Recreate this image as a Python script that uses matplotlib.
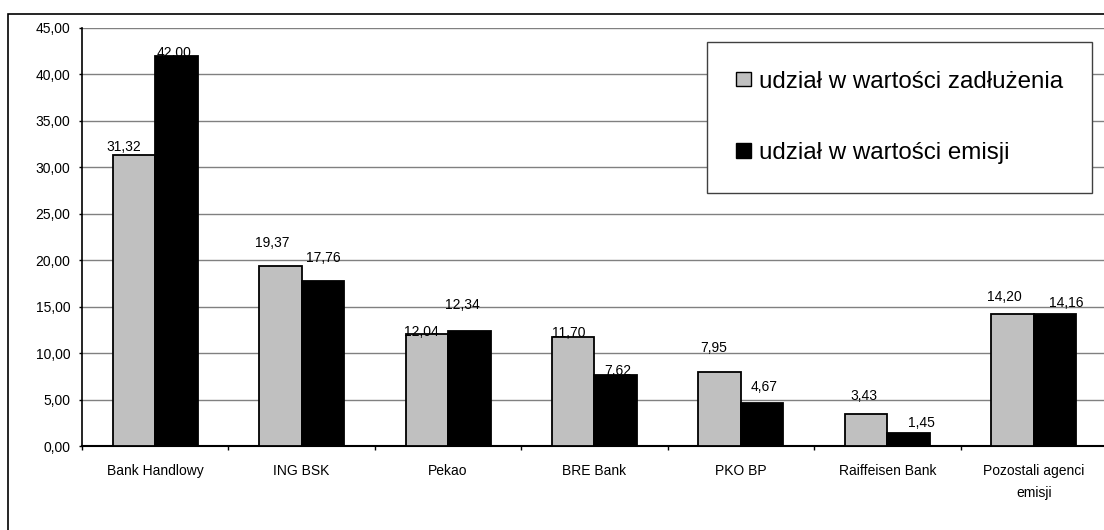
import numpy as np
import matplotlib
matplotlib.use('Agg')
import matplotlib.pyplot as plt
from matplotlib.patches import Rectangle

plt.rcParams['font.family'] = ['Liberation Sans', 'DejaVu Sans']

# chart data
categories = ['Bank Handlowy', 'ING BSK', 'Pekao', 'BRE Bank', 'PKO BP',
              'Raiffeisen Bank', 'Pozostali agenci\nemisji']
debt_share = [31.32, 19.37, 12.04, 11.70, 7.95, 3.43, 14.20]
issue_share = [42.00, 17.76, 12.34, 7.62, 4.67, 1.45, 14.16]
series_names = ['udział w wartości zadłużenia', 'udział w wartości emisji']
y_ticks = [0, 5, 10, 15, 20, 25, 30, 35, 40, 45]

# label offsets from bar top (pixels, dx, dy) - labels were moved by hand in the original
debt_offsets = [(-10, 8), (-8, 23), (-5, 2), (-5, 4), (-6, 24), (-2, 18), (-8, 17)]
issue_offsets = [(-2, 3), (0, 23), (-7, 26), (2, 4), (2, 16), (13, 10), (11, 11)]

W, H = 1104, 530
fig = plt.figure(figsize=(W / 100, H / 100), dpi=100)
fig.patch.set_facecolor('white')

# outer chart frame (cut off at right and bottom)
fig.patches.append(Rectangle((8 / W, -0.2), 1.5, (H - 14) / H + 0.2, fill=False,
                             edgecolor='black', linewidth=1.2,
                             transform=fig.transFigure, figure=fig))

ax = fig.add_axes([82 / W, (H - 446) / H, (1107 - 82) / W, (446 - 28) / H])

x = np.arange(len(categories))
w = 0.29
bars1 = ax.bar(x - w / 2, debt_share, w, color='#c0c0c0', edgecolor='black',
               linewidth=1.3, label=series_names[0], zorder=3)
bars2 = ax.bar(x + w / 2, issue_share, w, color='black', edgecolor='black',
               linewidth=1.3, label=series_names[1], zorder=3)

px = 0.72  # points per pixel at 100 dpi
for bars, vals, offs in [(bars1, debt_share, debt_offsets), (bars2, issue_share, issue_offsets)]:
    for b, v, (dx, dy) in zip(bars, vals, offs):
        ax.annotate(f'{v:.2f}'.replace('.', ','),
                    (b.get_x() + b.get_width() / 2, v),
                    xytext=(dx * px, dy * px), textcoords='offset points',
                    ha='center', va='center', fontsize=10, zorder=4)

ax.set_xlim(-0.5, len(categories) - 0.5)
ax.set_ylim(0, 45)
ax.set_yticks(y_ticks)
ax.set_yticklabels([f'{t:.2f}'.replace('.', ',') for t in y_ticks], fontsize=10)
ax.yaxis.grid(True, color='#808080', linewidth=1.0, zorder=0)
ax.tick_params(axis='y', direction='out', length=2.5, width=1, pad=6)

# category boundaries as major ticks, names on minor ticks
ax.set_xticks(np.arange(len(categories) + 1) - 0.5)
ax.set_xticklabels([])
ax.set_xticks(x, minor=True)
ax.set_xticklabels(categories, minor=True, fontsize=10, linespacing=1.7, va='top')
ax.tick_params(axis='x', which='major', direction='out', length=3, width=1)
ax.tick_params(axis='x', which='minor', length=0, pad=13)

for s in ['top', 'right']:
    ax.spines[s].set_visible(False)
ax.spines['left'].set_linewidth(1.2)
ax.spines['bottom'].set_linewidth(1.5)

leg = ax.legend(loc='upper left', bbox_to_anchor=(707 / W, 1 - 42 / H),
                bbox_transform=fig.transFigure, fontsize=17.4, frameon=True,
                fancybox=False, shadow=False, handlelength=0.66, handleheight=0.54,
                handletextpad=0.33, labelspacing=2.05, borderpad=1.18, borderaxespad=0)
leg.get_frame().set_edgecolor('#404040')
leg.get_frame().set_linewidth(1.0)
leg.get_frame().set_alpha(1)
for h in leg.legend_handles:
    h.set_linewidth(1.0)

fig.savefig('out.png', dpi=100)
